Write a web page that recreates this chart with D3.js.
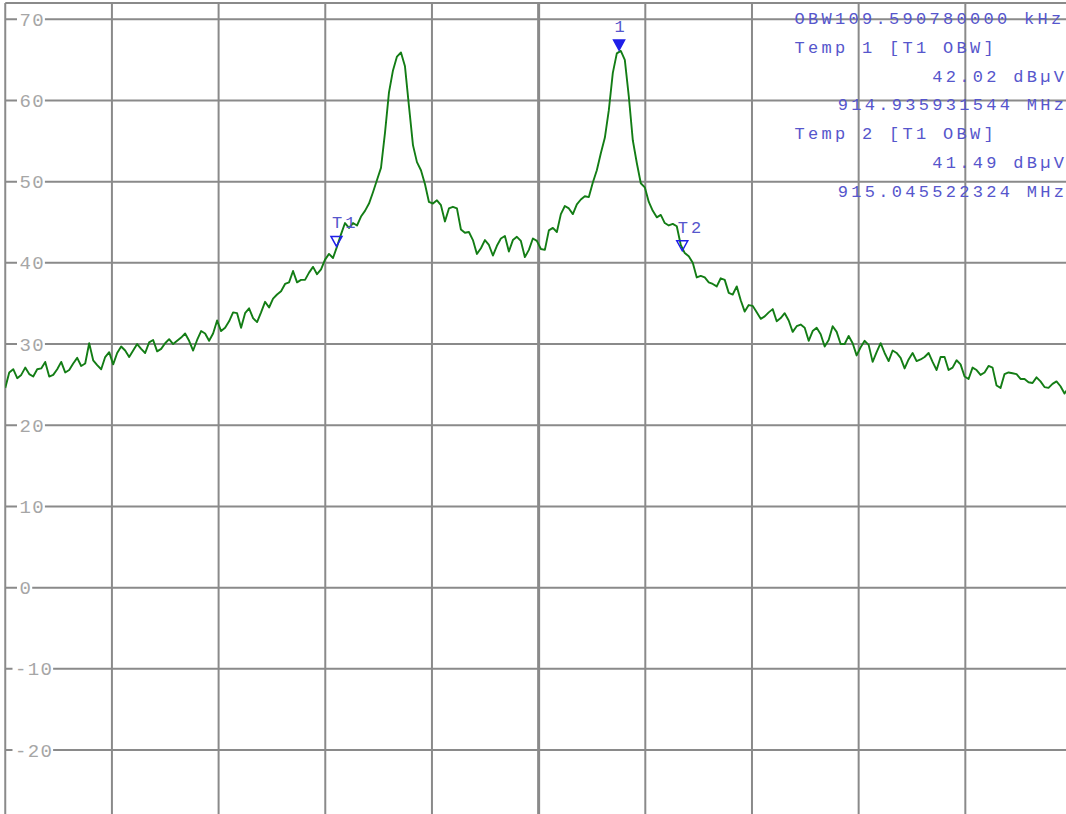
<!DOCTYPE html>
<html><head><meta charset="utf-8">
<script src="https://cdn.jsdelivr.net/npm/d3@7"></script>
<style>html,body{margin:0;padding:0;background:#fff;overflow:hidden}</style>
</head><body>
<svg id="chart" width="1066" height="814"></svg>
<script>
// ---- data ----
const centerMHz = 915.0;
const divKHz = 33.81;              // frequency per horizontal division
const numDivisions = 10;
const refLevel = 72;               // dBµV at top of grid
const bottomLevel = -28;           // dBµV at bottom of grid
const yTicks = [70, 60, 50, 40, 30, 20, 10, 0, -10, -20];
const traceStartMHz = 914.83095;
const traceStepMHz = 0.00126688;
const traceLevels = [
  24.6, 26.5, 26.9, 25.8, 26.2, 27.1, 26.3, 26.0, 26.9, 27.0,
  27.8, 26.0, 26.2, 26.9, 27.8, 26.5, 26.8, 27.6, 28.3, 27.3,
  27.6, 30.1, 28.0, 27.4, 26.9, 28.4, 29.0, 27.5, 28.9, 29.7,
  29.2, 28.4, 29.2, 30.0, 29.4, 28.9, 30.2, 30.5, 29.1, 29.4,
  30.1, 30.6, 30.0, 30.4, 30.8, 31.3, 30.4, 29.2, 30.5, 31.6,
  31.3, 30.4, 31.3, 32.9, 31.6, 32.0, 32.8, 33.9, 33.8, 32.0,
  33.8, 34.4, 33.2, 32.7, 33.9, 35.2, 34.5, 35.6, 36.1, 36.5,
  37.4, 37.6, 39.0, 37.6, 37.9, 37.9, 38.8, 39.5, 38.6, 39.2,
  40.4, 41.1, 40.6, 42.0, 43.5, 44.9, 44.3, 44.9, 44.6, 45.7,
  46.4, 47.3, 48.7, 50.2, 51.7, 56.0, 61.0, 63.7, 65.4, 65.9,
  64.2, 59.3, 54.5, 52.4, 51.4, 49.7, 47.5, 47.3, 47.7, 47.1,
  45.1, 46.7, 46.9, 46.7, 44.1, 43.7, 43.8, 42.8, 41.1, 41.8,
  42.8, 42.2, 40.9, 42.1, 43.0, 43.3, 41.4, 42.8, 43.2, 42.7,
  40.7, 41.6, 43.0, 42.7, 41.7, 41.6, 44.0, 44.3, 43.8, 46.0,
  47.0, 46.7, 46.0, 47.2, 47.8, 48.2, 48.1, 49.9, 51.4, 53.5,
  55.4, 58.8, 63.4, 65.8, 66.1, 65.0, 60.5, 55.1, 52.3, 49.8,
  49.3, 47.5, 46.4, 45.6, 45.9, 44.9, 44.6, 44.8, 44.5, 42.2,
  41.2, 40.8, 40.0, 38.2, 38.4, 38.2, 37.6, 37.4, 37.1, 38.1,
  37.9, 36.3, 36.1, 37.1, 35.4, 34.0, 34.8, 34.7, 33.9, 33.1,
  33.4, 33.9, 34.3, 32.8, 33.2, 33.8, 32.9, 31.5, 32.2, 32.4,
  32.0, 30.4, 31.6, 32.0, 31.2, 29.7, 30.5, 32.2, 31.5, 30.0,
  30.0, 31.0, 30.1, 28.6, 29.6, 30.4, 29.9, 27.8, 29.0, 30.1,
  28.9, 27.9, 29.2, 28.9, 28.3, 27.0, 28.1, 28.9, 27.9, 28.1,
  28.4, 28.9, 27.8, 26.8, 28.4, 28.4, 26.8, 27.1, 28.0, 27.5,
  26.0, 25.7, 27.1, 26.8, 26.2, 26.5, 27.3, 27.1, 24.9, 24.6,
  26.3, 26.5, 26.4, 26.3, 25.7, 25.7, 25.3, 25.2, 25.9, 25.4,
  24.7, 24.6, 25.1, 25.4, 24.8, 23.9, 24.6
];
const markerLabels = ["T1", "T2", "1"];
const markerFreqsMHz = [914.935931544, 915.045522324, 915.0255];
const markerLevels = [42.02, 41.49, 66.2];
const markerFilled = [false, false, true];
const infoTexts = [
  "OBW109.590780000 kHz",
  "Temp 1 [T1 OBW]",
  "42.02 dBµV",
  "914.935931544 MHz",
  "Temp 2 [T1 OBW]",
  "41.49 dBµV",
  "915.045522324 MHz"
];
const infoAlign = ["left", "left", "right", "right", "left", "right", "right"];

// ---- layout ----
const W = 1066, H = 814;
const plotLeft = 5.25, plotRight = 1072, plotTop = 3, plotBottom = 815;
const halfSpanMHz = numDivisions / 2 * divKHz / 1000;

const x = d3.scaleLinear().domain([centerMHz - halfSpanMHz, centerMHz + halfSpanMHz]).range([plotLeft, plotRight]);
const y = d3.scaleLinear().domain([bottomLevel, refLevel]).range([plotBottom, plotTop]);

const svg = d3.select("#chart");
svg.append("rect").attr("width", W).attr("height", H).attr("fill", "#fff");

const gridColor = "#8a8a8a";
const grid = svg.append("g");
// vertical grid
const vFreqs = d3.range(0, numDivisions + 1).map(i => centerMHz - halfSpanMHz + i * divKHz / 1000);
grid.selectAll("line.v").data(vFreqs).join("line")
  .attr("x1", d => x(d)).attr("x2", d => x(d))
  .attr("y1", plotTop).attr("y2", H)
  .attr("stroke", gridColor)
  .attr("stroke-width", (d, i) => i === numDivisions / 2 ? 3 : 2);
// horizontal grid incl. top border
grid.selectAll("line.h").data([refLevel].concat(yTicks)).join("line")
  .attr("x1", plotLeft).attr("x2", W)
  .attr("y1", d => y(d)).attr("y2", d => y(d))
  .attr("stroke", gridColor).attr("stroke-width", 2);

// tick labels with white knock-out
const tickG = svg.append("g");
yTicks.forEach(v => {
  const g = tickG.append("g");
  const t = g.append("text")
    .attr("x", v < 0 ? 15 : 19.5)
    .attr("y", y(v) + 6.5)
    .attr("font-family", "Liberation Mono, DejaVu Sans Mono, monospace")
    .attr("font-size", 19)
    .attr("letter-spacing", 1.3)
    .attr("fill", "#a6a6a6")
    .text(String(v));
  const bb = t.node().getBBox();
  g.insert("rect", "text")
    .attr("x", bb.x - 2.5).attr("y", y(v) - 3)
    .attr("width", bb.width + 2.5).attr("height", 6)
    .attr("fill", "#fff");
});

// trace
const line = d3.line()
  .x((d, i) => x(traceStartMHz + i * traceStepMHz))
  .y(d => y(d));
svg.append("clipPath").attr("id", "clip").append("rect")
  .attr("x", plotLeft).attr("y", plotTop).attr("width", plotRight - plotLeft).attr("height", plotBottom - plotTop);
svg.append("path")
  .datum(traceLevels)
  .attr("clip-path", "url(#clip)")
  .attr("d", line)
  .attr("fill", "none")
  .attr("stroke", "#137d15")
  .attr("stroke-width", 1.9)
  .attr("stroke-linejoin", "round");

// markers
const textFont = "Liberation Mono, DejaVu Sans Mono, monospace";
const markerBlue = "#1f1fe8";
const labelBlue = "#5656cc";
markerLabels.forEach((lab, i) => {
  const cx = x(markerFreqsMHz[i]);
  const tip = y(markerLevels[i]);
  svg.append("path")
    .attr("d", `M${cx - 5.5},${tip - 10}L${cx + 5.5},${tip - 10}L${cx},${tip}Z`)
    .attr("fill", markerFilled[i] ? markerBlue : "none")
    .attr("stroke", markerBlue)
    .attr("stroke-width", 1.5);
  svg.append("text")
    .attr("x", cx - 4.5).attr("y", tip - 18)
    .attr("font-family", textFont).attr("font-size", 17)
    .attr("letter-spacing", 3)
    .attr("fill", labelBlue)
    .text(lab);
});

// info block
const infoLeft = 794.5, infoRight = 1064, ls = 3.3;
infoTexts.forEach((txt, i) => {
  const t = svg.append("text")
    .attr("y", 24 + i * 28.8)
    .attr("font-family", textFont).attr("font-size", 17)
    .attr("letter-spacing", ls)
    .attr("fill", labelBlue)
    .text(txt);
  if (infoAlign[i] === "left") {
    t.attr("x", infoLeft);
  } else {
    t.attr("x", 0);
    const len = t.node().getComputedTextLength();
    t.attr("x", infoRight - len + ls);
  }
});
</script>
</body></html>
